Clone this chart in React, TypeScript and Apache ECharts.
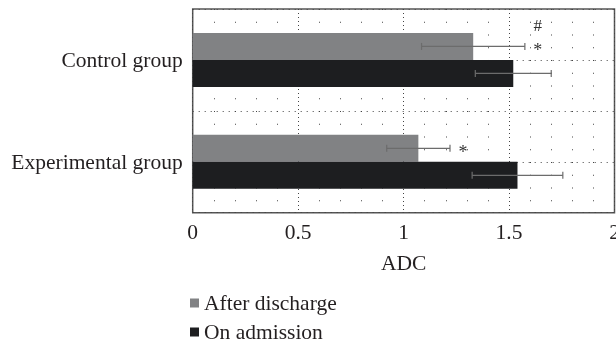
import React, { useEffect, useRef } from "react";
import * as echarts from "echarts";

const categories = ["Control group", "Experimental group"];
const seriesNames = ["After discharge", "On admission"];
const afterDischarge = [1.33, 1.07];
const afterDischargeSD = [0.245, 0.15];
const onAdmission = [1.52, 1.54];
const onAdmissionSD = [0.18, 0.215];
// significance markers drawn beside the "After discharge" error bars
const afterDischargeMarks = [["*", "#"], ["*"]];
const xTicks = [0, 0.5, 1, 1.5, 2];

const FONT = "Liberation Serif";
const FS = 21.5;
const TEXT = "#231f20";
const GRAY = "#818284";
const BLACK = "#1d1e20";
const HALF = 13.5;

function errorSeries(values: number[], sds: number[], marks: string[][] | null, offset: number) {
  return {
    type: "custom",
    xAxisIndex: 0,
    yAxisIndex: 0,
    z: 5,
    data: values.map((v, i) => [v, i, sds[i]]),
    encode: { x: 0, y: 1 },
    renderItem: (params: any, api: any) => {
      const v = api.value(0);
      const c = api.value(1);
      const sd = api.value(2);
      const lo = api.coord([v - sd, c]);
      const hi = api.coord([v + sd, c]);
      const y = lo[1] + offset;
      const st = { stroke: "#6c6c6c", lineWidth: 1.2 };
      const children: any[] = [
        { type: "line", shape: { x1: lo[0], y1: y, x2: hi[0], y2: y }, style: st },
        { type: "line", shape: { x1: lo[0], y1: y - 3.5, x2: lo[0], y2: y + 3.5 }, style: st },
        { type: "line", shape: { x1: hi[0], y1: y - 3.5, x2: hi[0], y2: y + 3.5 }, style: st },
      ];
      if (marks) {
        const m = marks[params.dataIndex] || [];
        m.forEach((t, k) => {
          children.push({
            type: "text",
            x: hi[0] + 13,
            y: y + 4 - k * 25,
            style: {
              text: t,
              fontFamily: FONT,
              fontSize: t === "#" ? 17 : 18,
              fill: "#333",
              align: "center",
              verticalAlign: "middle",
            },
          });
        });
      }
      return { type: "group", children };
    },
  };
}

export default function App() {
  const ref = useRef<HTMLDivElement>(null);
  useEffect(() => {
    const chart = echarts.init(ref.current!, null, { renderer: "svg" });
    chart.setOption({
      animation: false,
      textStyle: { fontFamily: FONT, color: TEXT },
      grid: {
        left: 192.7,
        right: 1.5,
        top: 9,
        bottom: 132.3,
        containLabel: false,
        outerBoundsMode: "none",
        show: true,
        borderColor: "#555",
        borderWidth: 1.5,
        backgroundColor: "transparent",
      },
      legend: {
        orient: "vertical",
        left: 190,
        top: 292,
        height: 53,
        data: seriesNames,
        icon: "rect",
        itemWidth: 9,
        itemHeight: 9,
        itemGap: 7,
        padding: 0,
        textStyle: { fontFamily: FONT, fontSize: FS, color: TEXT },
      },
      xAxis: {
        type: "value",
        min: 0,
        max: 2,
        interval: 0.5,
        name: "ADC",
        nameLocation: "middle",
        nameGap: 39,
        nameTextStyle: { fontFamily: FONT, fontSize: FS, color: TEXT },
        axisLine: { show: false },
        axisTick: { show: false },
        axisLabel: {
          fontFamily: FONT,
          fontSize: FS,
          color: TEXT,
          margin: 8,
          formatter: (v: number) => (xTicks.includes(v) ? String(v) : ""),
        },
        splitLine: { show: true, lineStyle: { color: "#444", width: 1, type: [1, 3] } },
        minorTick: { show: false, splitNumber: 5 },
        minorSplitLine: { show: true, lineStyle: { color: "#444", width: 1, type: [1, 11.75] } },
      },
      yAxis: [
        {
          type: "category",
          data: categories,
          inverse: true,
          axisLine: { show: false },
          axisTick: { show: false },
          splitLine: { show: false },
          axisLabel: { fontFamily: FONT, fontSize: FS, color: TEXT, margin: 10 },
        },
        {
          type: "value",
          min: 0,
          max: 4,
          interval: 1,
          position: "right",
          axisLine: { show: false },
          axisTick: { show: false },
          axisLabel: { show: false },
          splitLine: { show: true, lineStyle: { color: "#444", width: 1, type: [1, 5] } },
        },
      ],
      series: [
        {
          name: seriesNames[0],
          type: "bar",
          data: afterDischarge,
          barWidth: 27,
          barGap: "0%",
          itemStyle: { color: GRAY },
          z: 3,
        },
        {
          name: seriesNames[1],
          type: "bar",
          data: onAdmission,
          barWidth: 27,
          barGap: "0%",
          itemStyle: { color: BLACK },
          z: 3,
        },
        errorSeries(afterDischarge, afterDischargeSD, afterDischargeMarks, -HALF),
        errorSeries(onAdmission, onAdmissionSD, null, HALF),
      ],
    });
    return () => chart.dispose();
  }, []);
  return (
    <div
      ref={ref}
      style={{ position: "fixed", left: 0, top: 0, width: 616, height: 345 }}
    />
  );
}
